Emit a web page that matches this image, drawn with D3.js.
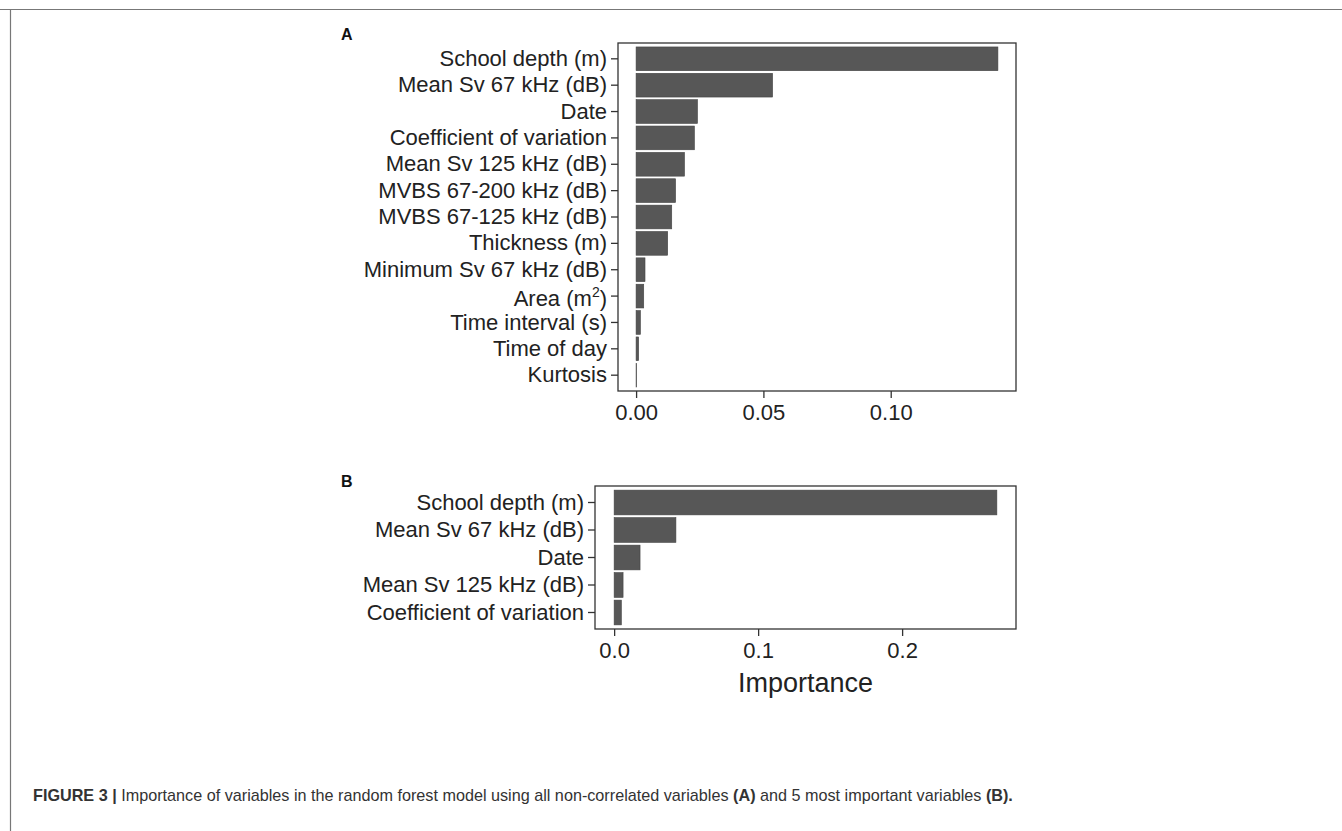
<!DOCTYPE html>
<html>
<head>
<meta charset="utf-8">
<script src="https://cdn.jsdelivr.net/npm/d3@7"></script>
<style>
  html, body { margin: 0; padding: 0; background: #fff; }
  svg { display: block; }
  text { font-family: "Liberation Sans", Arial, Helvetica, sans-serif; }
</style>
</head>
<body>
<svg id="chart" width="1342" height="831"></svg>
<script>
// ---- Data ----
const categoriesA = [
  "School depth (m)", "Mean Sv 67 kHz (dB)", "Date", "Coefficient of variation",
  "Mean Sv 125 kHz (dB)", "MVBS 67-200 kHz (dB)", "MVBS 67-125 kHz (dB)",
  "Thickness (m)", "Minimum Sv 67 kHz (dB)", "Area (m2)", "Time interval (s)",
  "Time of day", "Kurtosis"
];
const valuesA = [0.1421, 0.0536, 0.0241, 0.0229, 0.0190, 0.0155, 0.0140,
                 0.0124, 0.0035, 0.0030, 0.0017, 0.0010, 0.0002];
const ticksA = [0, 0.05, 0.10];
const tickLabelsA = ["0.00", "0.05", "0.10"];

const categoriesB = [
  "School depth (m)", "Mean Sv 67 kHz (dB)", "Date", "Mean Sv 125 kHz (dB)",
  "Coefficient of variation"
];
const valuesB = [0.2658, 0.0429, 0.0180, 0.0062, 0.0050];
const ticksB = [0, 0.1, 0.2];
const tickLabelsB = ["0.0", "0.1", "0.2"];

const xTitle = "Importance";

// ---- Drawing ----
const svg = d3.select("#chart");
svg.append("rect").attr("width", 1342).attr("height", 831).attr("fill", "#fff");

// page frame lines
svg.append("line").attr("x1", 0).attr("x2", 1342).attr("y1", 9.5).attr("y2", 9.5)
  .attr("stroke", "#777").attr("stroke-width", 1.2);
svg.append("line").attr("x1", 10.5).attr("x2", 10.5).attr("y1", 9).attr("y2", 831)
  .attr("stroke", "#777").attr("stroke-width", 1.2);

function panel(cfg) {
  const { cats, vals, ticks, tickLabels, box, letter, letterPos } = cfg;
  const max = d3.max(vals);
  const x = d3.scaleLinear()
    .domain([-0.05 * max, 1.05 * max])
    .range([box.left, box.right]);
  const y = d3.scaleBand()
    .domain(cats)
    .range([box.top, box.bottom])
    .paddingInner(0.1)
    .paddingOuter(0.15);

  const g = svg.append("g");

  // bars
  g.selectAll("rect.bar").data(cats).join("rect")
    .attr("class", "bar")
    .attr("x", x(0))
    .attr("y", d => y(d))
    .attr("width", (d, i) => Math.max(0.6, x(vals[i]) - x(0)))
    .attr("height", y.bandwidth())
    .attr("fill", "#575757")
    .attr("stroke", "#444")
    .attr("stroke-width", 0.6);

  // border
  g.append("rect")
    .attr("x", box.left).attr("y", box.top)
    .attr("width", box.right - box.left).attr("height", box.bottom - box.top)
    .attr("fill", "none").attr("stroke", "#333").attr("stroke-width", 1.3);

  // y axis
  const yAxis = d3.axisLeft(y).tickSize(7).tickPadding(4);
  const ya = g.append("g").attr("transform", `translate(${box.left},0)`).call(yAxis);
  ya.select(".domain").remove();
  ya.selectAll(".tick line").attr("stroke", "#333").attr("stroke-width", 1.3);
  ya.selectAll(".tick text")
    .attr("fill", "#222")
    .style("font-size", "22px")
    .style("font-family", '"Liberation Sans", Arial, sans-serif')
    .each(function(d) {
      if (d === "Area (m2)") {
        const t = d3.select(this);
        t.text("");
        t.attr("transform", "translate(0,3)");
        t.append("tspan").text("Area (m");
        t.append("tspan").text("2").attr("dy", "-9px").style("font-size", "14px");
        t.append("tspan").text(")").attr("dy", "9px");
      }
    });

  // x axis
  const xAxis = d3.axisBottom(x).tickValues(ticks)
    .tickFormat((d, i) => tickLabels[i]).tickSize(7).tickPadding(6);
  const xa = g.append("g").attr("transform", `translate(0,${box.bottom})`).call(xAxis);
  xa.select(".domain").remove();
  xa.selectAll(".tick line").attr("stroke", "#333").attr("stroke-width", 1.3);
  xa.selectAll(".tick text")
    .attr("fill", "#222")
    .style("font-size", "22px")
    .style("font-family", '"Liberation Sans", Arial, sans-serif');

  // panel letter
  svg.append("text").attr("x", letterPos[0]).attr("y", letterPos[1])
    .text(letter)
    .style("font-size", "16px").style("font-weight", "bold").attr("fill", "#111");
  return x;
}

panel({
  cats: categoriesA, vals: valuesA, ticks: ticksA, tickLabels: tickLabelsA,
  box: { left: 618, right: 1016, top: 43, bottom: 391 },
  letter: "A", letterPos: [341, 40]
});

panel({
  cats: categoriesB, vals: valuesB, ticks: ticksB, tickLabels: tickLabelsB,
  box: { left: 595, right: 1016, top: 486, bottom: 629 },
  letter: "B", letterPos: [341, 487]
});

svg.append("text")
  .attr("x", 805.5).attr("y", 692)
  .attr("text-anchor", "middle")
  .attr("fill", "#222")
  .style("font-size", "27px")
  .text(xTitle);

// caption
const cap = svg.append("text").attr("x", 33).attr("y", 801)
  .attr("fill", "#333")
  .style("font-size", "16.2px");
cap.append("tspan").text("FIGURE 3 | ").style("font-weight", "bold");
cap.append("tspan").text("Importance of variables in the random forest model using all non-correlated variables ");
cap.append("tspan").text("(A)").style("font-weight", "bold");
cap.append("tspan").text(" and 5 most important variables ");
cap.append("tspan").text("(B).").style("font-weight", "bold");
</script>
</body>
</html>
